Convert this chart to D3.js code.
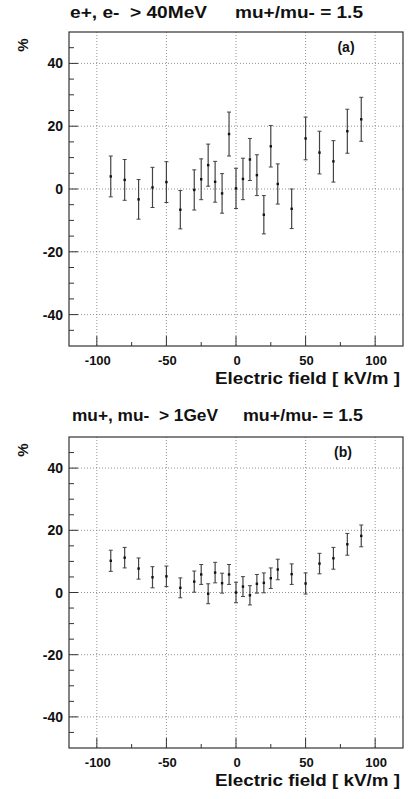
<!DOCTYPE html>
<html>
<head>
<meta charset="utf-8">
<script src="https://cdn.jsdelivr.net/npm/d3@7"></script>
<style>
  body { margin: 0; background: #fff; }
  svg { display: block; }
  text { font-family: "Liberation Sans", Arial, sans-serif; font-weight: bold; fill: #111; white-space: pre; }
</style>
</head>
<body>
<script>
// electric field values (kV/m), shared by both panels
const field = [-90, -80, -70, -60, -50, -40, -30, -25, -20, -15, -10, -5, 0,
  5, 10, 15, 20, 25, 30, 40, 50, 60, 70, 80, 90]

// panel (a): e+, e- > 40MeV
const valA = [4.0, 2.9, -3.3, 0.5, 2.2, -6.6, -0.3, 3.1, 7.6, 2.3, -1.4, 17.5, 0.2,
  3.2, 9.4, 4.4, -8.2, 13.6, 1.6, -6.3, 16.1, 11.6, 8.8, 18.4, 22.2]
const errA = [6.5, 6.5, 6.3, 6.4, 6.5, 6.1, 6.4, 6.5, 6.7, 6.5, 6.3, 7.0, 6.4,
  6.6, 6.7, 6.5, 6.1, 6.6, 6.4, 6.3, 6.8, 6.8, 6.6, 7.0, 7.0]

// panel (b): mu+, mu- > 1GeV
const valB = [10.2, 11.2, 7.7, 4.9, 5.2, 1.5, 3.5, 5.8, -0.4, 6.4, 3.0, 5.8, 0.0,
  1.9, -0.9, 2.8, 3.1, 4.6, 7.4, 5.9, 2.9, 9.3, 11.0, 15.5, 18.2]
const errB = [3.4, 3.3, 3.4, 3.4, 3.3, 3.2, 3.4, 3.2, 3.2, 3.3, 3.2, 3.2, 3.3,
  3.2, 3.1, 3.0, 3.2, 3.3, 3.3, 3.3, 3.4, 3.3, 3.5, 3.5, 3.5]

const xTickLabels = [-100, -50, 0, 50, 100]
const yTickLabels = [-40, -20, 0, 20, 40]

const W = 408, H = 799

const svg = d3.select("body")
  .append("svg")
  .attr("width", W)
  .attr("height", H)

const drawPanel = (cfg) => {
  const left = 69, right = 403
  const top = cfg.top, bottom = cfg.bottom
  const g = svg.append("g")

  const x = d3.scaleLinear().domain([-120, 120]).range([left, right])
  const y = d3.scaleLinear().domain([-50, 50]).range([bottom, top])

  // title, stretched to the scanned widths
  g.append("text")
    .attr("x", cfg.title1X[0])
    .attr("y", cfg.titleY)
    .attr("textLength", cfg.title1X[1] - cfg.title1X[0])
    .attr("lengthAdjust", "spacingAndGlyphs")
    .style("font-size", "17px")
    .text(cfg.title1)
  g.append("text")
    .attr("x", cfg.title2X[0])
    .attr("y", cfg.titleY)
    .attr("textLength", cfg.title2X[1] - cfg.title2X[0])
    .attr("lengthAdjust", "spacingAndGlyphs")
    .style("font-size", "17px")
    .text("mu+/mu- = 1.5")

  // grid
  g.append("g")
    .selectAll("line")
    .data(xTickLabels)
    .enter()
    .append("line")
    .attr("x1", d => x(d)).attr("x2", d => x(d))
    .attr("y1", top).attr("y2", bottom)
    .attr("stroke", "#777")
    .attr("stroke-width", 0.8)
    .attr("stroke-dasharray", "1,2")
  g.append("g")
    .selectAll("line")
    .data(yTickLabels)
    .enter()
    .append("line")
    .attr("y1", d => y(d)).attr("y2", d => y(d))
    .attr("x1", left).attr("x2", right)
    .attr("stroke", "#777")
    .attr("stroke-width", 0.8)
    .attr("stroke-dasharray", "1,2")

  // frame
  g.append("rect")
    .attr("x", left).attr("y", top)
    .attr("width", right - left).attr("height", bottom - top)
    .attr("fill", "none")
    .attr("stroke", "#333")
    .attr("stroke-width", 1.2)

  // y ticks
  const yTicks = d3.range(-45, 50, 5)
  g.append("g")
    .selectAll("line")
    .data(yTicks)
    .enter()
    .append("line")
    .attr("x1", left)
    .attr("x2", d => left + (d % 20 == 0 ? 9 : 5))
    .attr("y1", d => y(d)).attr("y2", d => y(d))
    .attr("stroke", "#333")

  g.append("g")
    .selectAll("text")
    .data(yTickLabels)
    .enter()
    .append("text")
    .attr("x", 63)
    .attr("y", d => y(d))
    .attr("dy", "0.36em")
    .attr("text-anchor", "end")
    .style("font-size", "14px")
    .text(d => d)

  // x ticks
  const xTicks = d3.range(-100, 101, 25)
  g.append("g")
    .selectAll("line")
    .data(xTicks)
    .enter()
    .append("line")
    .attr("x1", d => x(d)).attr("x2", d => x(d))
    .attr("y1", bottom)
    .attr("y2", d => bottom - (d % 50 == 0 ? 10 : 4))
    .attr("stroke", "#333")

  g.append("g")
    .selectAll("text")
    .data(xTickLabels)
    .enter()
    .append("text")
    .attr("x", d => x(d) + 1)
    .attr("y", bottom + 19)
    .attr("text-anchor", "middle")
    .style("font-size", "13px")
    .text(d => d)

  g.append("text")
    .attr("x", 215)
    .attr("y", bottom + 38)
    .attr("textLength", 185)
    .attr("lengthAdjust", "spacingAndGlyphs")
    .style("font-size", "17px")
    .text("Electric field [ kV/m ]")

  g.append("text")
    .attr("transform", "translate(" + 28 + "," + (top + 13) + ") rotate(-90)")
    .attr("text-anchor", "middle")
    .style("font-size", "15px")
    .text("%")

  g.append("text")
    .attr("x", cfg.labelX)
    .attr("y", top + 20)
    .attr("text-anchor", "middle")
    .style("font-size", "14px")
    .text(cfg.label)

  // error bars
  const pts = field.map((f, i) => ({ f: f, v: cfg.vals[i], e: cfg.errs[i] }))
  const bars = g.append("g")
    .selectAll("g")
    .data(pts)
    .enter()
    .append("g")
  bars.append("line")
    .attr("x1", d => x(d.f)).attr("x2", d => x(d.f))
    .attr("y1", d => y(d.v + d.e)).attr("y2", d => y(d.v - d.e))
    .attr("stroke", "#444")
    .attr("stroke-width", 1.2)
  bars.append("line")
    .attr("x1", d => x(d.f) - 2).attr("x2", d => x(d.f) + 2)
    .attr("y1", d => y(d.v + d.e)).attr("y2", d => y(d.v + d.e))
    .attr("stroke", "#444")
  bars.append("line")
    .attr("x1", d => x(d.f) - 2).attr("x2", d => x(d.f) + 2)
    .attr("y1", d => y(d.v - d.e)).attr("y2", d => y(d.v - d.e))
    .attr("stroke", "#444")
  bars.append("rect")
    .attr("x", d => x(d.f) - 1.2).attr("y", d => y(d.v) - 1.2)
    .attr("width", 2.4).attr("height", 2.4)
    .attr("fill", "#111")
}

drawPanel({
  top: 32, bottom: 346, titleY: 18,
  title1: "e+, e-  > 40MeV", title1X: [70, 207],
  title2X: [235, 363],
  label: "(a)", labelX: 346,
  vals: valA, errs: errA
})

drawPanel({
  top: 437, bottom: 748, titleY: 421,
  title1: "mu+, mu-  > 1GeV", title1X: [72, 218],
  title2X: [243, 363],
  label: "(b)", labelX: 343,
  vals: valB, errs: errB
})
</script>
</body>
</html>
